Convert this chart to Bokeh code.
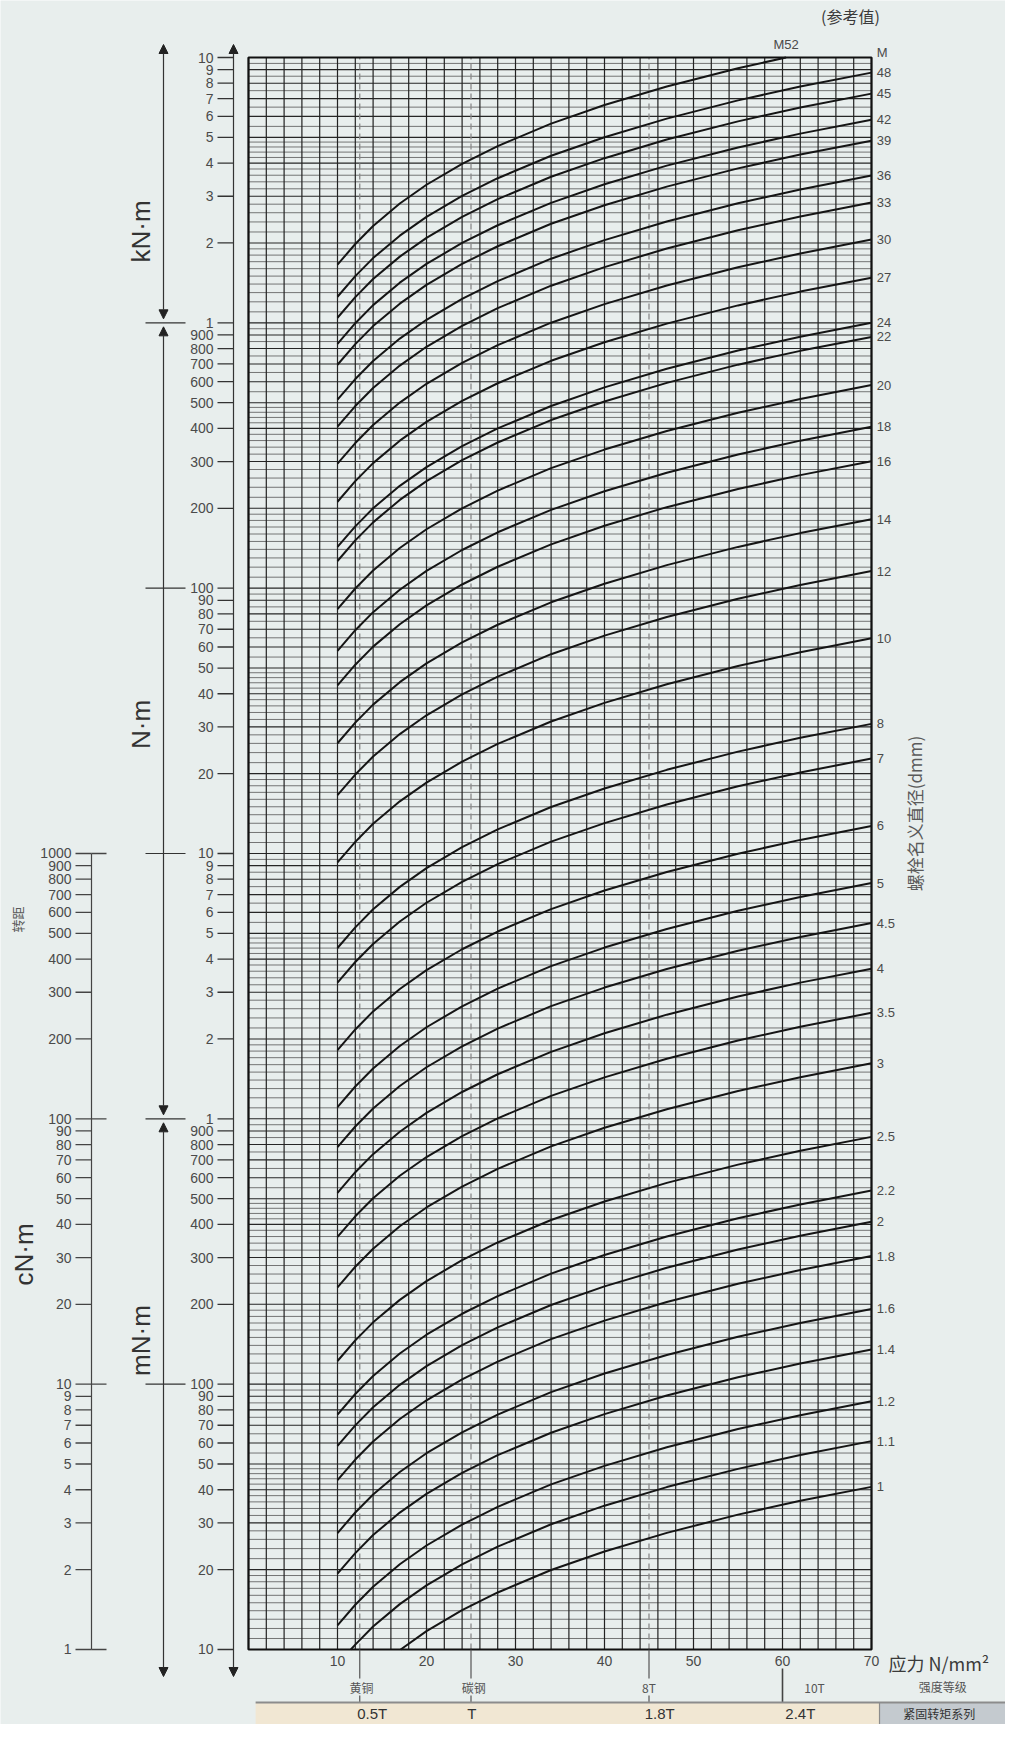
import math
from bokeh.plotting import figure
from bokeh.models import Range1d, LogScale, Arrow, NormalHead
from bokeh.core.properties import value
from bokeh.embed import file_html
from bokeh.resources import INLINE

# ---------------- data ----------------
bolt_sizes = ["48", "45", "42", "39", "36", "33", "30", "27", "24", "22", "20",
              "18", "16", "14", "12", "10", "8", "7", "6", "5", "4.5", "4",
              "3.5", "3", "2.5", "2.2", "2", "1.8", "1.6", "1.4", "1.2", "1.1", "1"]
# tightening torque (N·m) at stress 70 N/mm² (right edge of chart)
torque_at_70 = [8770, 7310, 5830, 4860, 3590, 2840, 2060, 1480, 1000, 885, 583,
                406, 301, 182, 116, 64.7, 30.8, 22.8, 12.7, 7.74, 5.47, 3.68,
                2.51, 1.62, 0.855, 0.537, 0.409, 0.304, 0.192, 0.135, 0.0862, 0.061, 0.041]
m52_torque_at_70 = 11590          # M52 leaves the top of the chart
# curve shape: torque at stress / torque at 70
curve_stress = [10, 12, 14, 17, 20, 24, 28, 34, 40, 47, 55, 62, 70]
curve_ratio = [0.143, 0.171, 0.200, 0.243, 0.286, 0.343, 0.400, 0.486, 0.571,
               0.671, 0.786, 0.886, 1.000]
# where curves meet the chart border
edge_points = {"M52": (60.4, 10000.0), "1.1": (11.5, 0.01), "1": (17.1, 0.01)}

x_tick_values = [10, 20, 30, 40, 50, 60, 70]
grade_stress = [12.5, 25, 45]
grade_names = ["黄铜", "碳钢", "8T", "10T"]
grade_label_x = [12.7, 25.3, 45.0, 63.6]
class_boundary = 60
series_labels = ["0.5T", "T", "1.8T", "2.4T"]
series_x = [13.9, 25.1, 46.2, 62.0]

grid_mantissa = [1, 1.1, 1.2, 1.3, 1.4, 1.5, 1.6, 1.7, 1.8, 1.9,
                 2, 2.2, 2.4, 2.6, 2.8, 3, 3.2, 3.4, 3.6, 3.8, 4, 4.2, 4.4, 4.6, 4.8,
                 5, 5.5, 6, 6.5, 7, 7.5, 8, 8.5, 9, 9.5]
decades = [0.01, 0.1, 1, 10, 100, 1000]
tick_mantissa = [1, 2, 3, 4, 5, 6, 7, 8, 9]

# ---------------- layout helpers (page pixels -> data) ----------------
W, H = 1005, 1724
X0 = 256.0        # page x of stress 0
PXU = 8.9         # px per stress unit
YT = 65.0         # page y of 10 kN·m
PXD = 265.33      # px per decade


def sx(px):
    return (px - X0) / PXU


def sy(py):
    return 10 ** (4 - (py - YT) / PXD)


def ypage(v):
    return YT + (4 - math.log10(v)) * PXD


BG = "#e8eeed"
INK = "#151515"
TXT = "#4a4a4a"
LAT = value("Liberation Sans")
CJK = value("Noto Sans CJK SC")

p = figure(width=W, height=H, x_range=Range1d(sx(8), sx(8 + W)),
           y_range=Range1d(sy(8 + H), sy(8)), x_axis_type=None, y_axis_type=None,
           output_backend="svg", toolbar_location=None, min_border=0,
           background_fill_color=BG, border_fill_color=BG, outline_line_color=None)
p.y_scale = LogScale()

# ---------------- grid ----------------
hx0, hx1, hy, hw, hc = [], [], [], [], []
for d in decades:
    for m in grid_mantissa:
        v = m * d
        major = float(m).is_integer()
        hx0.append(0); hx1.append(70); hy.append(v)
        hw.append(1.1 if major else 0.8)
        hc.append("#262626" if major else "#555555")
p.segment(x0=hx0, y0=hy, x1=hx1, y1=hy, line_color=hc, line_width=hw)
vx = list(range(0, 71, 2))
p.segment(x0=vx, y0=[0.01] * len(vx), x1=vx, y1=[10000] * len(vx),
          line_color="#222222", line_width=1.2)

# dashed material lines
p.segment(x0=grade_stress, y0=[0.01] * 3, x1=grade_stress, y1=[10000] * 3,
          line_color="#8a8a8a", line_width=1.3, line_dash="6 4")

# frame
p.quad(left=[0], right=[70], bottom=[0.01], top=[10000], fill_color=None,
       line_color="#111111", line_width=2.2)

# ---------------- curves ----------------
xs, ys = [], []
all_names = ["M52"] + bolt_sizes
all_t70 = [m52_torque_at_70] + torque_at_70
for name, t70 in zip(all_names, all_t70):
    pts = [(s, t70 * r) for s, r in zip(curve_stress, curve_ratio)
           if 0.01 <= t70 * r <= 10000]
    if name in edge_points:
        e = edge_points[name]
        if e[1] >= 10000:
            pts = pts + [e]
        else:
            pts = [e] + pts
    xs.append([q[0] for q in pts])
    ys.append([q[1] for q in pts])
p.multi_line(xs=xs, ys=ys, line_color=INK, line_width=2.0)

# right labels
p.text(x=[70.6] * len(bolt_sizes), y=torque_at_70, text=bolt_sizes,
       text_font=LAT, text_font_size="13px", text_color=TXT,
       text_align="left", text_baseline="middle")
p.text(x=[70.6], y=[sy(60)], text=["M"], text_font=LAT, text_font_size="13px",
       text_color=TXT, text_align="left", text_baseline="middle")
p.text(x=[60.4], y=[sy(52)], text=["M52"], text_font=LAT, text_font_size="13px",
       text_color=TXT, text_align="center", text_baseline="middle")
p.text(x=[sx(858)], y=[sy(23)], text=["(参考值)"], text_font=CJK,
       text_font_size="16px", text_color="#3a3a3a", text_align="center",
       text_baseline="middle")
p.text(x=[sx(922)], y=[sy(821)], text=["螺栓名义直径(dmm)"], text_font=CJK,
       text_font_size="17px", text_color="#5a5a5a", text_align="center",
       text_baseline="middle", angle=math.pi / 2)

# ---------------- left: inner torque axis ----------------
AX = 241
p.add_layout(Arrow(x_start=sx(AX), y_start=sy(1684), x_end=sx(AX), y_end=sy(52),
                   start=NormalHead(size=9, fill_color="#222", line_color="#222"),
                   end=NormalHead(size=9, fill_color="#222", line_color="#222"),
                   line_color="#333", line_width=1.2))
tv, tl = [], []
for d in decades:
    for m in tick_mantissa:
        v = m * d
        tv.append(v)
        if v >= 1000:
            tl.append(str(int(round(v / 1000))))
        elif v >= 1:
            tl.append(str(int(round(v))))
        else:
            tl.append(str(int(round(v * 1000))))
tv.append(10000); tl.append("10")
p.segment(x0=[sx(AX - 16)] * len(tv), y0=tv, x1=[sx(AX)] * len(tv), y1=tv,
          line_color="#333", line_width=1.3)
p.text(x=[sx(AX - 20)] * len(tv), y=tv, text=tl, text_font=LAT,
       text_font_size="14px", text_color=TXT, text_align="right",
       text_baseline="middle")

# ---------------- left: unit arrows ----------------
UX = 171
cross = [1000, 100, 10, 1, 0.1]
p.segment(x0=[sx(UX - 18)] * len(cross), y0=cross, x1=[sx(UX + 22)] * len(cross),
          y1=cross, line_color="#333", line_width=1.2)
sections = [(sy(ypage(1000) - 4), sy(52)), (sy(ypage(1) - 4), sy(ypage(1000) + 4)),
            (sy(1684), sy(ypage(1) + 4))]
for y0, y1 in sections:
    p.add_layout(Arrow(x_start=sx(UX), y_start=y0, x_end=sx(UX), y_end=y1,
                       start=NormalHead(size=9, fill_color="#222", line_color="#222"),
                       end=NormalHead(size=9, fill_color="#222", line_color="#222"),
                       line_color="#333", line_width=1.2))
unit_texts = ["kN·m", "N·m", "mN·m"]
unit_pages = [239, 732, 1348]
p.text(x=[sx(148)] * 3, y=[sy(v) for v in unit_pages], text=unit_texts,
       text_font=LAT, text_font_size="26px", text_color="#333",
       text_align="center", text_baseline="middle", angle=math.pi / 2)

# ---------------- left: cN·m scale ----------------
CX = 99
cv, cl = [], []
for d in decades[:3]:
    for m in tick_mantissa:
        cv.append(m * d); cl.append(str(int(round(m * d * 100))))
cv.append(10); cl.append("1000")
p.segment(x0=[sx(CX)], y0=[0.01], x1=[sx(CX)], y1=[10], line_color="#444",
          line_width=1.2)
p.segment(x0=[sx(CX - 16)] * len(cv), y0=cv, x1=[sx(CX)] * len(cv), y1=cv,
          line_color="#444", line_width=1.3)
cdec = [0.01, 0.1, 1, 10]
p.segment(x0=[sx(CX)] * 4, y0=cdec, x1=[sx(CX + 15)] * 4, y1=cdec,
          line_color="#444", line_width=1.3)
p.text(x=[sx(CX - 20)] * len(cv), y=cv, text=cl, text_font=LAT,
       text_font_size="14px", text_color=TXT, text_align="right",
       text_baseline="middle")
p.text(x=[sx(31)], y=[sy(1262)], text=["cN·m"], text_font=LAT,
       text_font_size="26px", text_color="#333", text_align="center",
       text_baseline="middle", angle=math.pi / 2)
p.text(x=[sx(25)], y=[sy(927)], text=["转距"], text_font=CJK,
       text_font_size="13px", text_color="#5a5a5a", text_align="center",
       text_baseline="middle", angle=math.pi / 2)

# ---------------- bottom ----------------
p.text(x=x_tick_values, y=[sy(1668)] * len(x_tick_values),
       text=[str(v) for v in x_tick_values], text_font=LAT,
       text_font_size="14px", text_color=TXT, text_align="center",
       text_baseline="middle")
p.text(x=[71.9], y=[sy(1670)], text=["应力 N/mm²"], text_font=CJK,
       text_font_size="18px", text_color="#3a3a3a", text_align="left",
       text_baseline="middle")
n = len(grade_stress)
p.segment(x0=grade_stress, y0=[0.01] * n, x1=grade_stress, y1=[sy(1686)] * n,
          line_color="#555", line_width=1.2)
p.segment(x0=grade_stress, y0=[sy(1703)] * n, x1=grade_stress, y1=[sy(1710)] * n,
          line_color="#555", line_width=1.2)
p.segment(x0=[class_boundary], y0=[sy(1676)], x1=[class_boundary], y1=[sy(1710)],
          line_color="#444", line_width=1.6)
p.text(x=grade_label_x, y=[sy(1695)] * 4, text=grade_names, text_font=CJK,
       text_font_size="12px", text_color="#555", text_align="center",
       text_baseline="middle")
p.text(x=[78.0], y=[sy(1694)], text=["强度等级"], text_font=CJK,
       text_font_size="12px", text_color="#555", text_align="center",
       text_baseline="middle")

# band
p.quad(left=[0.8], right=[70.9], bottom=[sy(1745)], top=[sy(1710)],
       fill_color="#f1e7d3", line_color=None)
p.quad(left=[70.9], right=[90], bottom=[sy(1745)], top=[sy(1710)],
       fill_color="#c4cacf", line_color=None)
p.segment(x0=[0.8], y0=[sy(1710)], x1=[90], y1=[sy(1710)], line_color="#8c8c8c",
          line_width=2)
p.segment(x0=[70.9], y0=[sy(1710)], x1=[70.9], y1=[sy(1745)], line_color="#8c8c8c",
          line_width=1.2)
p.text(x=series_x, y=[sy(1721)] * len(series_x), text=series_labels,
       text_font=LAT, text_font_size="15px", text_color="#333",
       text_align="center", text_baseline="middle")
p.text(x=[77.6], y=[sy(1721)], text=["紧固转矩系列"], text_font=CJK,
       text_font_size="12px", text_color="#333", text_align="center",
       text_baseline="middle")

html = file_html(p, INLINE)
html = html.replace("<body>", '<body style="background:%s">' % BG, 1)
open("out.html", "w").write(html)
